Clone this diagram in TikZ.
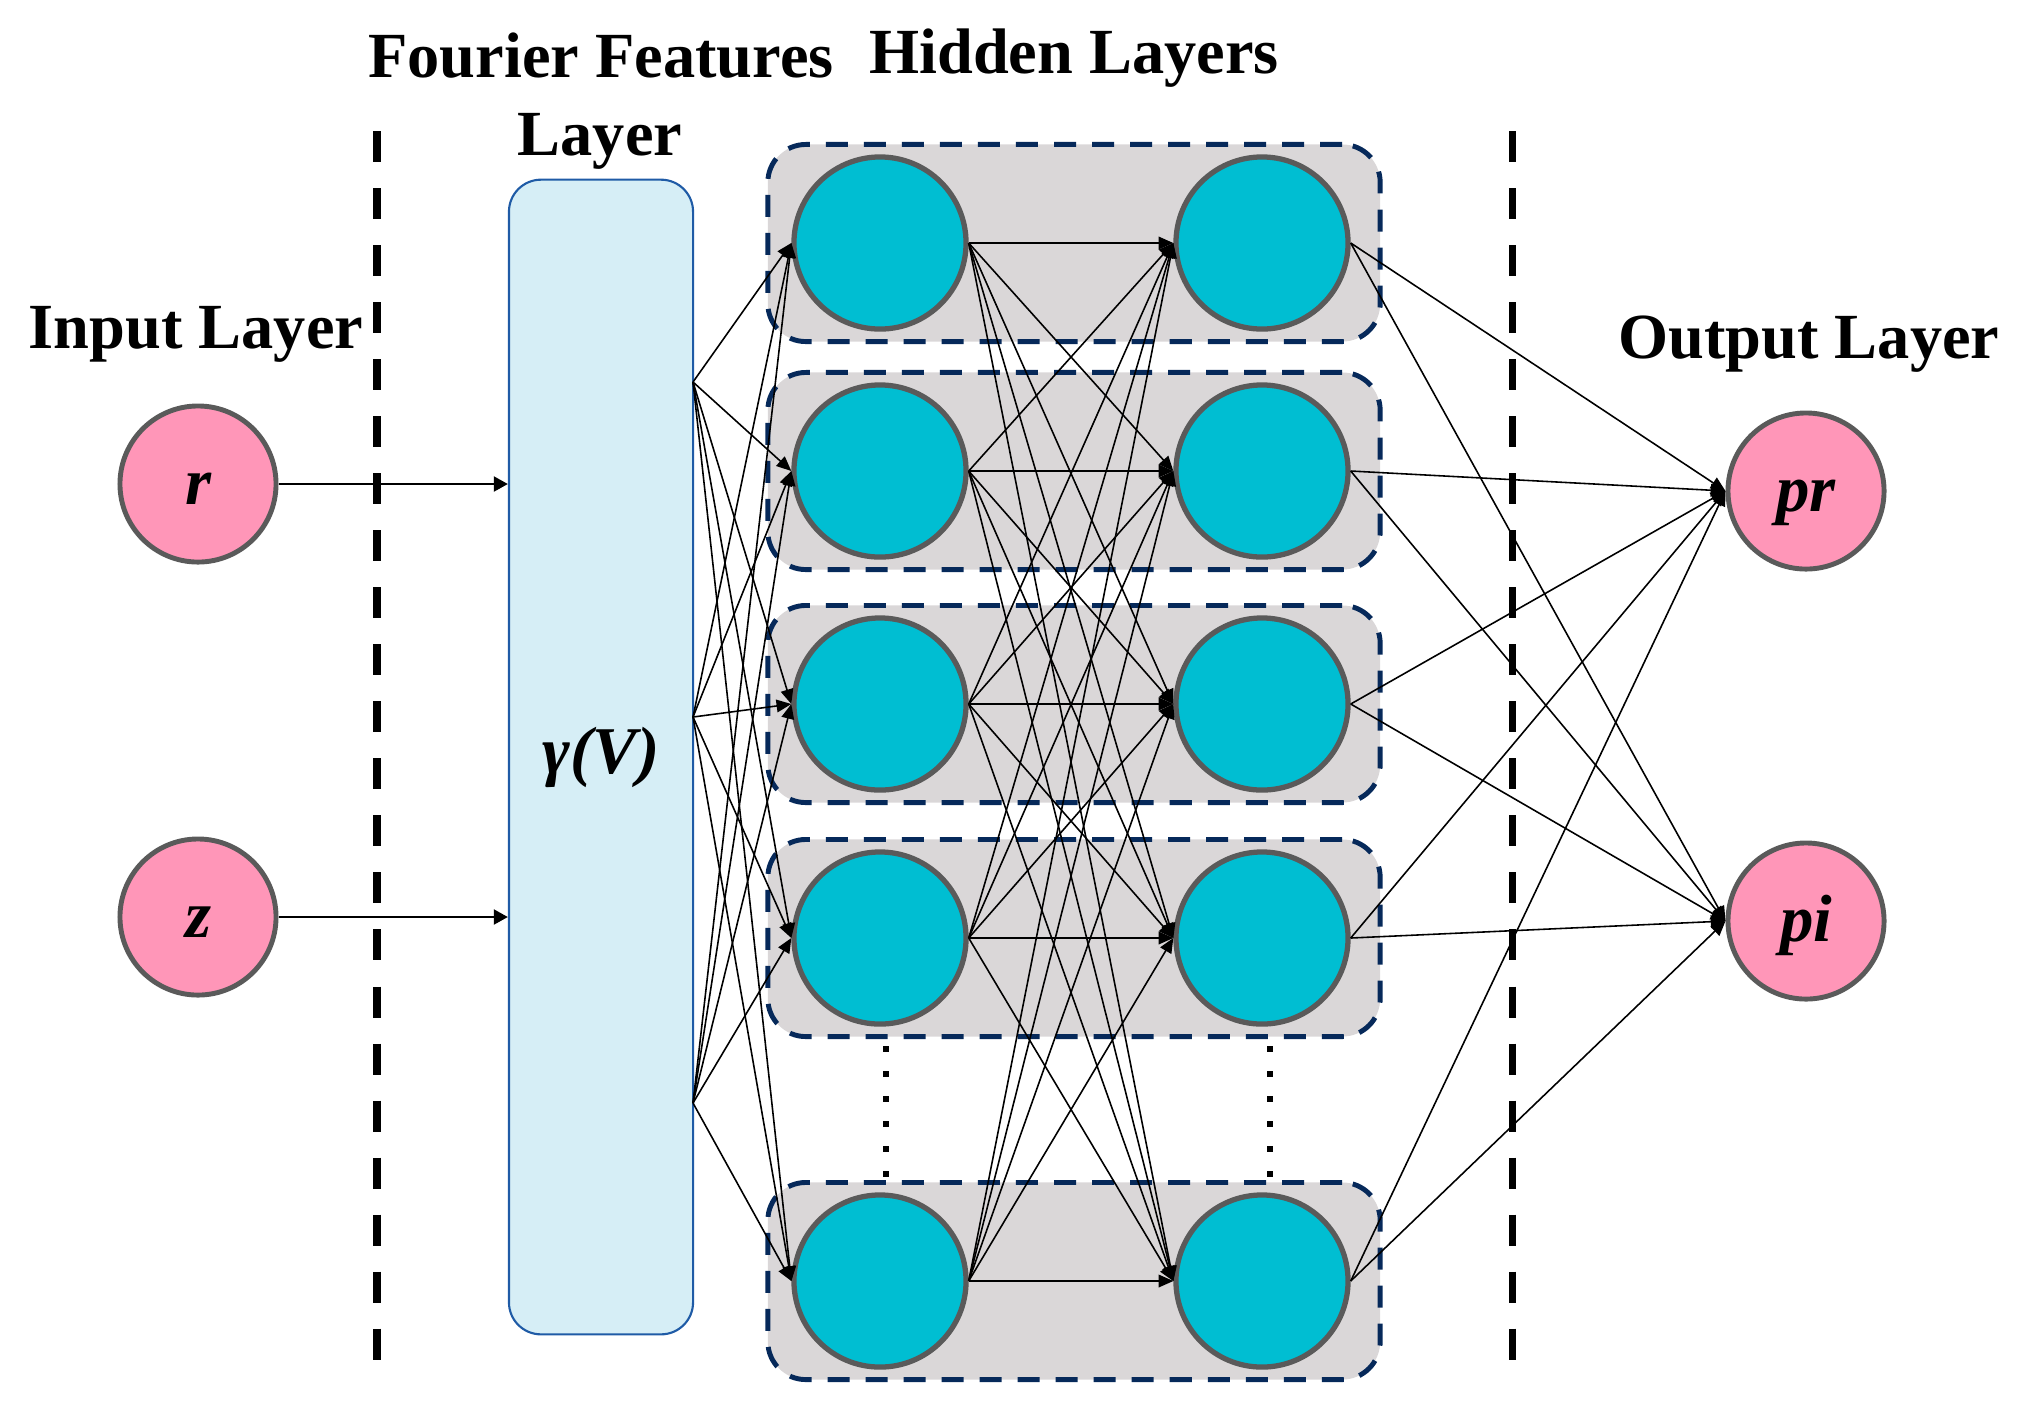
\documentclass[tikz,border=0pt]{standalone}
\usepackage{fontspec}
\setmainfont{Liberation Serif}
\usetikzlibrary{arrows.meta}
\definecolor{cpink}{HTML}{FF96B8}
\definecolor{ccyan}{HTML}{00BED2}
\definecolor{cgray}{HTML}{5A5A5A}
\definecolor{cgrp}{HTML}{DAD7D8}
\definecolor{cnavy}{HTML}{06295A}
\definecolor{cffill}{HTML}{D6EEF6}
\definecolor{cfdraw}{HTML}{1F5BA6}
\begin{document}
\begin{tikzpicture}[x=0.01cm,y=-0.01cm,
  lbl/.style={font=\fontsize{18.3pt}{22pt}\selectfont\bfseries,anchor=base,inner sep=0pt},
  inout/.style={circle,draw=cgray,fill=cpink,line width=1.4pt,minimum size=1.56cm,inner sep=0pt,text height=0.4cm,text depth=0pt,font=\fontsize{19pt}{22pt}\selectfont\bfseries\itshape},
  neuron/.style={circle,draw=cgray,fill=ccyan,line width=1.5pt,minimum size=1.72cm,inner sep=0pt},
  grp/.style={draw=cnavy,fill=cgrp,line width=1.4pt,dash pattern=on 0.22cm off 0.16cm,rounded corners=0.38cm,minimum width=6.12cm,minimum height=1.97cm,inner sep=0pt},
  fbox/.style={draw=cfdraw,fill=cffill,line width=0.6pt,rounded corners=0.32cm,minimum width=1.84cm,minimum height=11.54cm,inner sep=0pt,font=\fontsize{19pt}{22pt}\selectfont\bfseries\itshape},
  conn/.style={-{Triangle[length=4.2pt,width=3.6pt]},line width=0.45pt},
  inarrow/.style={-{Triangle[length=4pt,width=4.2pt]},line width=0.8pt},
  vdash/.style={line width=2pt,dash pattern=on 0.31cm off 0.26cm},
  vdots/.style={line width=1.7pt,dash pattern=on 0.06cm off 0.19cm}]
\path[use as bounding box] (0,0) rectangle (2019,1417);
% titles
\node[lbl] (tin) at (196,348) {Input Layer};
\node[lbl] (tff) at (601,77) {Fourier Features};
\node[lbl] (tlay) at (600,155) {Layer};
\node[lbl] (thid) at (1074,73) {Hidden Layers};
\node[lbl] (tout) at (1809,358) {Output Layer};
% separators
\draw[vdash] (377,131) -- (377,1362);
\draw[vdash] (1512,131) -- (1512,1362);
% input nodes
\node[inout] (r) at (198,484) {r};
\node[inout] (z) at (198,917) {z};
% Fourier box
\node[fbox] (ff) at (601,757) {γ(V)};
\coordinate (f1) at (693,382);
\coordinate (f2) at (693,717);
\coordinate (f3) at (693,1103);
\draw[inarrow] (r) -- (r -| ff.west);
\draw[inarrow] (z) -- (z -| ff.west);
% hidden groups
\foreach \i/\y in {1/243,2/471,3/704,4/938,5/1281}{
  \node[grp] (g\i) at (1074,\y) {};
  \node[neuron] (h\i a) at (880,\y) {};
  \node[neuron] (h\i b) at (1262,\y) {};
}
\draw[vdots] (886,1046) -- (886,1178);
\draw[vdots] (1270,1046) -- (1270,1178);
% output nodes
\node[inout] (pr) at (1806,491) {pr};
\node[inout] (pi) at (1806,921) {pi};
% connections
\foreach \f in {f1,f2,f3}{
  \foreach \i in {1,...,5}{
    \draw[conn] (\f) -- (h\i a.west);
  }
}
\foreach \i in {1,...,5}{
  \foreach \j in {1,...,5}{
    \draw[conn] (h\i a.east) -- (h\j b.west);
  }
  \draw[conn] (h\i b.east) -- (pr.west);
  \draw[conn] (h\i b.east) -- (pi.west);
}
\end{tikzpicture}
\end{document}
